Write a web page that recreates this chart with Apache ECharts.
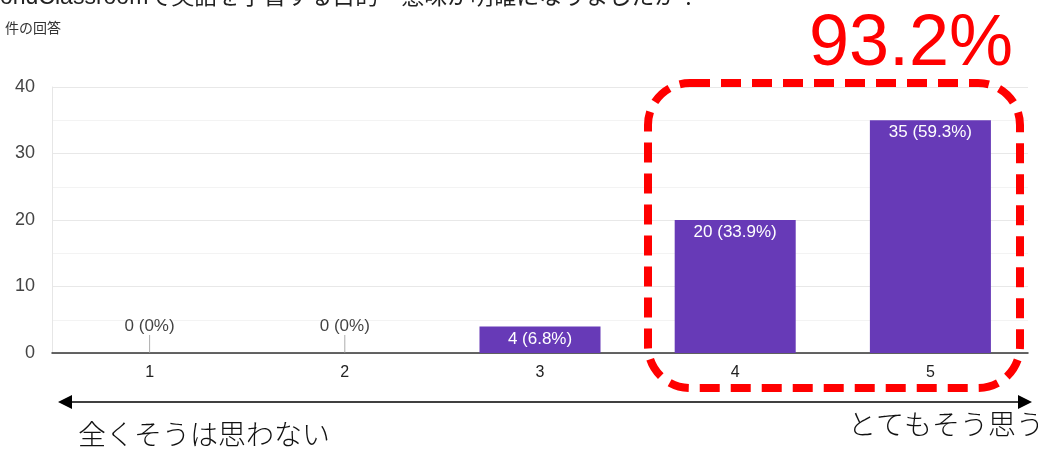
<!DOCTYPE html>
<html>
<head>
<meta charset="utf-8">
<script src="https://cdn.jsdelivr.net/npm/echarts@6/dist/echarts.min.js"></script>
<style>
html,body{margin:0;padding:0;background:#fff;}
#chart{width:1038px;height:450px;}
</style>
</head>
<body>
<div id="chart"></div>
<script>
const categories = ['1', '2', '3', '4', '5'];
const counts = [0, 0, 4, 20, 35];
const percents = ['0%', '0%', '6.8%', '33.9%', '59.3%'];
const yTicks = [0, 10, 20, 30, 40];
const titleText = 'ondClassroomで英語を学習する目的・意味が明確になりましたか？';
const subtitleText = '件の回答';
const highlightText = '93.2%';
const leftScaleText = '全くそうは思わない';
const rightScaleText = 'とてもそう思う';

const chart = echarts.init(document.getElementById('chart'), null, {renderer: 'canvas'});
const fontBase = 'Liberation Sans, Arial, Noto Sans CJK JP, sans-serif';

const labelFor = i => counts[i] + ' (' + percents[i] + ')';
const zeroPoints = counts.map((v, i) => v === 0 ? [i, 0] : null).filter(p => p);

chart.setOption({
  animation: false,
  backgroundColor: '#fff',
  grid: {left: 52, right: 10, top: 87, bottom: 97},
  xAxis: {
    type: 'category',
    data: categories,
    axisLine: {show: true, lineStyle: {color: '#333', width: 1.5}},
    axisTick: {show: false},
    axisLabel: {color: '#222', fontSize: 16, margin: 12, fontFamily: fontBase},
    splitLine: {show: false}
  },
  yAxis: {
    type: 'value',
    min: yTicks[0],
    max: yTicks[yTicks.length - 1],
    interval: 10,
    axisLine: {show: true, lineStyle: {color: '#e6e6e6'}},
    axisTick: {show: false},
    axisLabel: {color: '#444', fontSize: 18, margin: 17, fontFamily: fontBase},
    splitLine: {show: true, lineStyle: {color: '#e8e8e8', width: 1}},
    minorTick: {show: false, splitNumber: 2},
    minorSplitLine: {show: true, lineStyle: {color: '#f3f3f3', width: 1}}
  },
  series: [
    {
      type: 'bar',
      data: counts,
      barWidth: '62%',
      itemStyle: {color: '#673ab7'},
      label: {
        show: true,
        position: 'insideTop',
        distance: 4,
        color: '#fff',
        fontSize: 17,
        fontFamily: fontBase,
        formatter: p => counts[p.dataIndex] === 0 ? '' : labelFor(p.dataIndex)
      }
    },
    {
      type: 'scatter',
      data: zeroPoints,
      symbol: 'rect',
      symbolSize: [1, 18],
      symbolOffset: [0, '-50%'],
      itemStyle: {color: '#999'},
      label: {
        show: true,
        position: 'top',
        distance: 0,
        color: '#111',
        fontSize: 17,
        fontFamily: fontBase,
        formatter: p => labelFor(p.data[0])
      },
      z: 3
    }
  ],
  graphic: [
    {type: 'text', left: 0, top: -14, style: {text: titleText, fontSize: 23, fill: '#222', fontFamily: 'Liberation Sans, Noto Sans CJK JP, sans-serif'}},
    {type: 'text', left: 5, top: 21, style: {text: subtitleText, fontSize: 14, fill: '#333', fontFamily: 'Noto Sans CJK JP, sans-serif'}},
    {type: 'text', x: 911, y: 45, style: {text: highlightText, fontSize: 72, fill: '#ff0000', fontFamily: 'Liberation Sans, Arial, sans-serif', align: 'center', verticalAlign: 'middle'}},
    {type: 'rect', shape: {x: 648, y: 83, width: 372, height: 305, r: 42}, style: {fill: 'none', stroke: '#ff0000', lineWidth: 8, lineDash: [20, 11]}, z: 10},
    {type: 'line', shape: {x1: 66, y1: 402, x2: 1024, y2: 402}, style: {stroke: '#000', lineWidth: 1.5}},
    {type: 'polygon', shape: {points: [[58, 402], [72, 395], [72, 409]]}, style: {fill: '#000'}},
    {type: 'polygon', shape: {points: [[1032, 402], [1018, 395], [1018, 409]]}, style: {fill: '#000'}},
    {type: 'text', left: 78, top: 420, style: {text: leftScaleText, fontSize: 28, fill: '#111', fontWeight: 300, fontFamily: 'Noto Sans CJK JP, sans-serif'}},
    {type: 'text', left: 848, top: 410, style: {text: rightScaleText, fontSize: 28, fill: '#111', fontWeight: 300, fontFamily: 'Noto Sans CJK JP, sans-serif'}}
  ]
});
</script>
</body>
</html>
